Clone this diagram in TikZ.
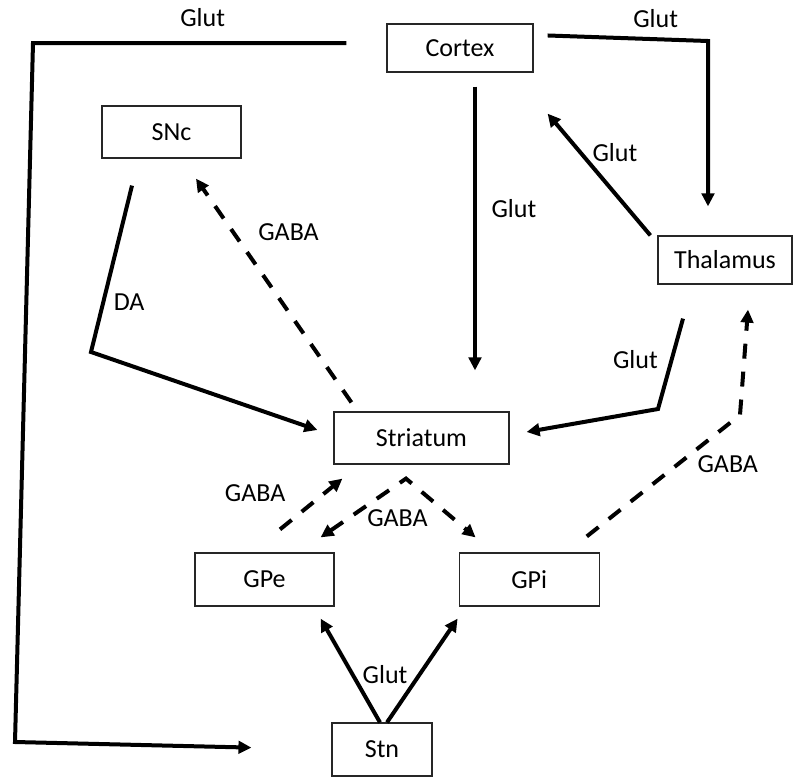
\documentclass[tikz,border=0pt]{standalone}
\usepackage{fontspec}
\setmainfont{Carlito}
\usetikzlibrary{arrows.meta,positioning}
\newcommand{\nucfont}{\fontsize{26pt}{30pt}\selectfont}

\begin{document}
\begin{tikzpicture}[
  x=1pt, y=-1pt,
  >={Triangle[length=13pt,width=12.5pt]},
  box/.style={rectangle, draw=black!85, line width=1.2pt, fill=white,
    minimum width=#1, minimum height=52pt, inner sep=0pt, font=\nucfont},
  arr/.style={->, line width=4pt},
  darr/.style={arr, dash pattern=on 15pt off 13pt},
  lbl/.style={inner sep=0pt, font=\nucfont}
]
\useasboundingbox (0,0) rectangle (796,777);

\node[box=146pt, minimum height=48pt] (cortex) at (460,48) {Cortex};
\node[box=139pt] (snc) at (171.5,132) {SNc};
\node[box=134pt, minimum height=48pt] (thal) at (725,260) {Thalamus};
\node[box=175pt] (stri) at (421.5,438) {Striatum};
\node[box=139pt, minimum height=53pt] (gpe) at (264.5,579.5) {GPe};
\node[box=140pt, minimum height=53pt, right=124pt of gpe] (gpi) {GPi};
\node[box=100pt, minimum height=53pt] (stn) at (382,749.5) {Stn};

\coordinate (tl) at (33,43);
\coordinate (bl) at (15,742);
\coordinate (tr) at (708,41);
\coordinate (dab) at (91,352);
\coordinate (tsb) at (658,409);
\coordinate (gtb) at (740,415);
\coordinate (fork) at ([xshift=-15.5pt,yshift=-14pt]stri.south);

% cortex to stn, round the left side
\draw[arr, shorten <=40pt, shorten >=80pt] ([yshift=5pt]cortex.west)
  -- node[lbl, pos=.52, above=14pt] (l1) {Glut} (tl) -- (bl) -- (stn.west);
% cortex <-> thalamus
\draw[arr, shorten <=14pt, shorten >=29pt] ([yshift=13pt]cortex.east)
  -- node[lbl, pos=.7, above=10pt] (l2) {Glut} (tr) -- ([xshift=-17pt]thal.north);
\draw[arr] ([xshift=-7pt]thal.north west)
  -- node[lbl, pos=.68, right=10pt] (l4) {Glut} ([xshift=14pt,yshift=-41pt]cortex.south east);
% into striatum
\draw[arr, shorten <=14pt, shorten >=41pt] ([xshift=15pt]cortex.south)
  -- node[lbl, pos=.4, right=14.5pt] (l3) {Glut} ([xshift=53.5pt]stri.north);
\draw[arr] ([xshift=-39.5pt,yshift=-27pt]snc.south)
  -- node[lbl, pos=.7, right=8.5pt] (l5) {DA} (dab) -- ([xshift=-16pt,yshift=8pt]stri.west);
\draw[arr] ([xshift=-42pt,yshift=-34pt]thal.south)
  -- node[lbl, pos=.45, left=12pt] (l7) {Glut} (tsb) -- ([xshift=17pt,yshift=6pt]stri.east);
\draw[darr] ([xshift=15.5pt,yshift=23pt]gpe.north)
  -- node[lbl, pos=.71, left=37pt] (l9) {GABA} ([xshift=9pt,yshift=-14pt]stri.south west);
% out of striatum
\draw[darr] ([xshift=18pt,yshift=9pt]stri.north west)
  -- node[lbl, pos=.76, right=23pt] (l6) {GABA} ([xshift=24.5pt,yshift=-20pt]snc.south);
\draw[darr, <->] ([xshift=-14pt,yshift=15pt]gpe.north east)
  -- node[lbl, pos=.9, below=23.6pt] (l10) {GABA} (fork) -- ([xshift=17pt,yshift=15pt]gpi.north west);
% gpi to thalamus
\draw[darr] ([xshift=-13pt,yshift=16pt]gpi.north east)
  -- node[lbl, pos=.92, below=29pt] (l8) {GABA} (gtb) -- ([xshift=23pt,yshift=-25pt]thal.south);
% stn
\draw[arr] ([xshift=-2pt]stn.north)
  -- node[lbl, pos=.46, right=8pt] (l11) {Glut} ([xshift=-14pt,yshift=-12pt]gpe.south east);
\draw[arr] ([xshift=5pt]stn.north) -- ([xshift=-1pt,yshift=-12pt]gpi.south west);
\end{tikzpicture}
\end{document}
